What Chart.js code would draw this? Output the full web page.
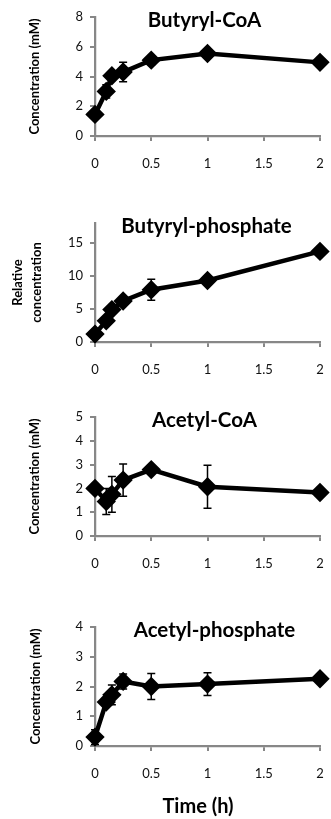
<!DOCTYPE html>
<html>
<head>
<meta charset="utf-8">
<script src="https://cdn.jsdelivr.net/npm/chart.js@4.4.0/dist/chart.umd.min.js"></script>
<style>
  body { margin: 0; background: #fff; }
  .panel { position: absolute; left: 0; width: 331px; }
  canvas { display: block; }
</style>
</head>
<body>
<div class="panel" style="top:0"><canvas id="g1" width="331" height="200"></canvas></div>
<div class="panel" style="top:200px"><canvas id="g2" width="331" height="200"></canvas></div>
<div class="panel" style="top:400px"><canvas id="g3" width="331" height="200"></canvas></div>
<div class="panel" style="top:600px"><canvas id="g4" width="331" height="219"></canvas></div>
<script>
// Tiempos de muestreo (h) y marcas del eje X
const tiempos = [0, 0.1, 0.15, 0.25, 0.5, 1, 2];
const ticksX = [0, 0.5, 1, 1.5, 2];

// Butiril-CoA (mM)
const butirilCoA = [1.45, 3.0, 4.05, 4.3, 5.1, 5.55, 4.95];
const butirilCoAErr = [0.1, 0.45, 0.2, 0.65, 0.3, 0.15, 0.1];
const ticksButirilCoA = [0, 2, 4, 6, 8];

// Butiril-fosfato (relativo)
const butirilFosfato = [1.2, 3.2, 4.9, 6.2, 7.9, 9.3, 13.7];
const butirilFosfatoErr = [0.3, 0.6, 0.5, 0.6, 1.6, 0.6, 0.4];
const ticksButirilFosfato = [0, 5, 10, 15];

// Acetil-CoA (mM)
const acetilCoA = [2.0, 1.45, 1.75, 2.35, 2.79, 2.07, 1.83];
const acetilCoAErr = [0.05, 0.55, 0.75, 0.68, 0.1, 0.9, 0.05];
const ticksAcetilCoA = [0, 1, 2, 3, 4, 5];

// Acetil-fosfato (mM)
const acetilFosfato = [0.3, 1.48, 1.72, 2.17, 2.0, 2.08, 2.26];
const acetilFosfatoErr = [0.25, 0.12, 0.33, 0.25, 0.44, 0.38, 0.05];
const ticksAcetilFosfato = [0, 1, 2, 3, 4];

const gris = '#878787';
const fuente = 'Lato';

// Barras de error (se dibujan debajo de la linea)
const barrasError = {
  id: 'barrasError',
  beforeDatasetsDraw(chart) {
    const { ctx, scales: { x, y } } = chart;
    const ds = chart.data.datasets[0];
    ctx.save();
    ctx.strokeStyle = '#000';
    ctx.lineWidth = 1.5;
    ds.data.forEach((p, i) => {
      const e = ds.errores[i];
      const px = x.getPixelForValue(p.x);
      const arriba = y.getPixelForValue(p.y + e);
      const abajo = y.getPixelForValue(p.y - e);
      ctx.beginPath();
      ctx.moveTo(px, arriba); ctx.lineTo(px, abajo);
      ctx.moveTo(px - 4, arriba); ctx.lineTo(px + 4, arriba);
      ctx.moveTo(px - 4, abajo); ctx.lineTo(px + 4, abajo);
      ctx.stroke();
    });
    ctx.restore();
  }
};

// Titulo dentro del area del grafico y etiqueta del eje X opcional
const tituloPanel = {
  id: 'tituloPanel',
  afterDraw(chart, args, opts) {
    const { ctx, chartArea } = chart;
    ctx.save();
    ctx.fillStyle = '#000';
    ctx.textAlign = 'center';
    ctx.textBaseline = 'alphabetic';
    ctx.font = 'bold 20.5px ' + fuente;
    ctx.fillText(opts.texto, (chartArea.left + chartArea.right) / 2 + opts.dx, chartArea.top + 9.5);
    if (opts.ejeX) {
      ctx.font = 'bold 20px ' + fuente;
      ctx.fillText(opts.ejeX, 198, chart.height - 6);
    }
    ctx.restore();
  }
};

// Sin relleno extra de las etiquetas: el area del grafico queda fija
function sinRelleno(s) {
  s.paddingLeft = 0;
  s.paddingRight = 0;
  s.paddingTop = 0;
  s.paddingBottom = 0;
}

function crearPanel(id, titulo, valores, errores, ticksY, ymax, cfg) {
  const ctx = document.getElementById(id).getContext('2d');
  return new Chart(ctx, {
    type: 'line',
    data: {
      datasets: [{
        data: tiempos.map((t, i) => ({ x: t, y: valores[i] })),
        errores: errores,
        borderColor: '#000',
        borderWidth: 4.5,
        backgroundColor: '#000',
        pointStyle: 'rectRot',
        pointRadius: 6.5,
        pointBackgroundColor: '#000',
        pointBorderColor: '#000',
        tension: 0,
        clip: false
      }]
    },
    options: {
      responsive: false,
      animation: false,
      layout: { padding: { top: cfg.arriba, right: 9, left: 0, bottom: 0 } },
      plugins: {
        legend: { display: false },
        tooltip: { enabled: false },
        tituloPanel: { texto: titulo, dx: cfg.dx, ejeX: cfg.ejeX }
      },
      scales: {
        x: {
          type: 'linear',
          min: 0,
          max: 2,
          afterBuildTicks: s => { s.ticks = ticksX.map(v => ({ value: v })); },
          afterFit: s => { s.height = cfg.altoX; sinRelleno(s); },
          ticks: { callback: v => String(v), font: { family: fuente, size: 13 }, color: '#111', padding: 15, maxRotation: 0 },
          grid: { drawOnChartArea: false, drawTicks: true, tickLength: 5, color: gris, lineWidth: 2 },
          border: { color: gris, width: 2.25 }
        },
        y: {
          type: 'linear',
          min: 0,
          max: ymax,
          afterBuildTicks: s => { s.ticks = ticksY.map(v => ({ value: v })); },
          afterFit: s => { s.width = 95; sinRelleno(s); },
          ticks: { callback: v => String(v), font: { family: fuente, size: 13 }, color: '#111', padding: 7 },
          grid: { drawOnChartArea: false, drawTicks: true, tickLength: 5, color: gris, lineWidth: 2 },
          border: { color: gris, width: 2.25 },
          title: {
            display: true,
            text: cfg.tituloY,
            color: '#000',
            font: { family: fuente, size: cfg.tamY, weight: 'bold', lineHeight: cfg.interlineado },
            padding: { top: cfg.padY, bottom: 0 }
          }
        }
      }
    },
    plugins: [barrasError, tituloPanel]
  });
}

crearPanel('g1', 'Butyryl-CoA', butirilCoA, butirilCoAErr, ticksButirilCoA, 8,
  { arriba: 17, altoX: 64, dx: -3, tituloY: 'Concentration (mM)', tamY: 13, interlineado: 1.2, padY: 27 });
crearPanel('g2', 'Butyryl-phosphate', butirilFosfato, butirilFosfatoErr, ticksButirilFosfato, 18,
  { arriba: 23, altoX: 58, dx: -1, tituloY: ['Relative', 'concentration'], tamY: 13, interlineado: 1.45, padY: 8.5 });
crearPanel('g3', 'Acetyl-CoA', acetilCoA, acetilCoAErr, ticksAcetilCoA, 5,
  { arriba: 17, altoX: 64, dx: -3, tituloY: 'Concentration (mM)', tamY: 13, interlineado: 1.2, padY: 27 });
crearPanel('g4', 'Acetyl-phosphate', acetilFosfato, acetilFosfatoErr, ticksAcetilFosfato, 4,
  { arriba: 27, altoX: 73, dx: 7, tituloY: 'Concentration (mM)', tamY: 13, interlineado: 1.2, padY: 28, ejeX: 'Time (h)' });
</script>
</body>
</html>
